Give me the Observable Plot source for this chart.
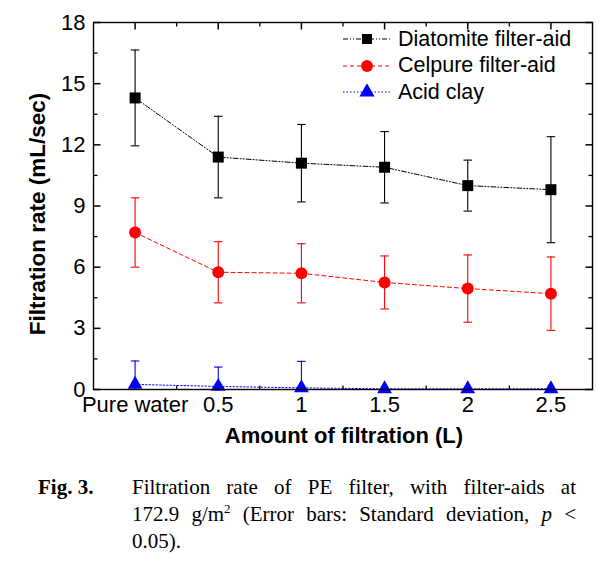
<!DOCTYPE html>
<html>
<head>
<meta charset="utf-8">
<script src="https://cdn.jsdelivr.net/npm/d3@7"></script>
<script src="https://cdn.jsdelivr.net/npm/@observablehq/plot@0.6"></script>
<style>
  body { margin: 0; background: #fff; }
  #wrap { position: relative; width: 614px; height: 570px; background: #fff; font-family: "Liberation Sans", Arial, sans-serif; }
  .ylab { position: absolute; left: 38px; top: 214px; transform: translate(-50%, -50%) rotate(-90deg); font-weight: bold; font-size: 22.5px; white-space: nowrap; color: #000; }
  .xlab { position: absolute; left: 344px; top: 436px; transform: translate(-50%, -50%); font-weight: bold; font-size: 22px; white-space: nowrap; color: #000; }
  .legend { position: absolute; left: 341px; top: 26px; font-size: 21.5px; color: #000; }
  .legend .row { display: flex; align-items: center; height: 26.5px; }
  .legend svg { margin-right: 5px; }
  .caption { position: absolute; left: 38px; top: 474px; font-family: "Liberation Serif", "Times New Roman", serif; font-size: 21px; line-height: 27px; color: #000; }
  .caption .fig { position: absolute; left: 0; top: 0; font-weight: bold; white-space: nowrap; }
  .caption .body { position: absolute; left: 94px; top: 0; width: 444px; }
  .caption .j { text-align: justify; text-align-last: justify; }
</style>
</head>
<body>
<div id="wrap">
  <div id="chart"></div>
  <div class="ylab">Filtration rate (mL/sec)</div>
  <div class="xlab">Amount of filtration (L)</div>
  <div class="legend" id="legend"></div>
  <div class="caption">
    <div class="fig">Fig. 3.</div>
    <div class="body">
      <div class="j">Filtration rate of PE filter, with filter-aids at</div>
      <div class="j">172.9 g/m<sup style="font-size:13px;line-height:0">2</sup> (Error bars: Standard deviation, <i>p</i> &lt;</div>
      <div>0.05).</div>
    </div>
  </div>
</div>
<script>
const categories = ["Pure water", "0.5", "1", "1.5", "2", "2.5"];
const diatomite   = [14.3, 11.4, 11.1, 10.9, 10.0, 9.8];
const diatomiteSD = [2.35, 2.0, 1.9, 1.75, 1.25, 2.6];
const celpure     = [7.7, 5.75, 5.7, 5.25, 4.95, 4.7];
const celpureSD   = [1.7, 1.5, 1.45, 1.3, 1.65, 1.8];
const acidClay    = [0.25, 0.15, 0.08, 0.03, 0.03, 0.03];
const acidClaySD  = [1.15, 0.95, 1.3, 0, 0, 0];
const seriesNames = ["Diatomite filter-aid", "Celpure filter-aid", "Acid clay"];
const yTicks = [0, 3, 6, 9, 12, 15, 18];

const styles = {
  "Diatomite filter-aid": {color: "#000000", dash: "5,2,1,2,1,2", symbol: "square"},
  "Celpure filter-aid":   {color: "#ff0000", dash: "4,3", symbol: "circle"},
  "Acid clay":            {color: "#0000ff", dash: "1.5,2", symbol: "triangle"}
};

const valuesBySeries = [diatomite, celpure, acidClay];
const sdBySeries = [diatomiteSD, celpureSD, acidClaySD];
const rows = [];
seriesNames.forEach((s, k) => {
  categories.forEach((c, i) => {
    rows.push({series: s, i, cat: c, v: valuesBySeries[k][i], sd: sdBySeries[k][i]});
  });
});

const capSymbol = {
  draw(context, size) {
    const w = Math.sqrt(size);
    context.moveTo(-w, 0);
    context.lineTo(w, 0);
  }
};
// tick-mark symbols: a segment of length r from the anchor point in one direction
const seg = (dx, dy) => ({
  draw(context, size) {
    const L = Math.sqrt(size / Math.PI);
    context.moveTo(0, 0);
    context.lineTo(dx * L, dy * L);
  }
});
const tickRight = seg(1, 0), tickLeft = seg(-1, 0), tickUp = seg(0, -1), tickDown = seg(0, 1);

const xIdx = categories.map((c, i) => i);
const xMinor = categories.slice(1).map((c, i) => i + 0.5);
const yMinor = yTicks.slice(1).map(t => t - 1.5);

const MAJ = 7, MIN = 4;
const marks = [];
marks.push(Plot.axisX(xIdx, {anchor: "bottom", tickSize: 0, tickPadding: 7, tickFormat: d => categories[d], fontSize: 22, label: null}));
marks.push(Plot.axisY(yTicks, {anchor: "left", tickSize: 0, tickPadding: 8, fontSize: 22, label: null}));
// inward ticks on all four sides
marks.push(Plot.dot(xIdx,   {x: d => d, frameAnchor: "bottom", symbol: tickUp, r: MAJ, stroke: "#000", strokeWidth: 1.5}));
marks.push(Plot.dot(xMinor, {x: d => d, frameAnchor: "bottom", symbol: tickUp, r: MIN, stroke: "#000", strokeWidth: 1.3}));
marks.push(Plot.dot(xIdx,   {x: d => d, frameAnchor: "top", symbol: tickDown, r: MAJ, stroke: "#000", strokeWidth: 1.5}));
marks.push(Plot.dot(xMinor, {x: d => d, frameAnchor: "top", symbol: tickDown, r: MIN, stroke: "#000", strokeWidth: 1.3}));
marks.push(Plot.dot(yTicks, {y: d => d, frameAnchor: "left", symbol: tickRight, r: MAJ, stroke: "#000", strokeWidth: 1.5}));
marks.push(Plot.dot(yMinor, {y: d => d, frameAnchor: "left", symbol: tickRight, r: MIN, stroke: "#000", strokeWidth: 1.3}));
marks.push(Plot.dot(yTicks, {y: d => d, frameAnchor: "right", symbol: tickLeft, r: MAJ, stroke: "#000", strokeWidth: 1.5}));
marks.push(Plot.dot(yMinor, {y: d => d, frameAnchor: "right", symbol: tickLeft, r: MIN, stroke: "#000", strokeWidth: 1.3}));

seriesNames.forEach(s => {
  const st = styles[s];
  const data = rows.filter(r => r.series === s);
  const eb = data.filter(r => r.sd > 0);
  marks.push(Plot.line(data, {x: "i", y: "v", stroke: st.color, strokeWidth: 1, strokeDasharray: st.dash, clip: true}));
  marks.push(Plot.ruleX(eb, {x: "i", y1: d => d.v - d.sd, y2: d => d.v + d.sd, stroke: st.color, strokeWidth: 1.1, clip: true}));
  marks.push(Plot.dot(eb, {x: "i", y: d => d.v + d.sd, symbol: capSymbol, r: 2.4, stroke: st.color, strokeWidth: 1.1}));
  marks.push(Plot.dot(eb.filter(d => d.v - d.sd > 0), {x: "i", y: d => d.v - d.sd, symbol: capSymbol, r: 2.4, stroke: st.color, strokeWidth: 1.1}));
  marks.push(Plot.dot(data, {x: "i", y: "v", symbol: st.symbol, r: st.symbol === "circle" ? 6 : st.symbol === "triangle" ? 5.5 : 6.2, fill: st.color, stroke: "none"}));
});
marks.push(Plot.frame({stroke: "#000", strokeWidth: 1.4}));

const chart = Plot.plot({
  width: 614,
  height: 460,
  marginLeft: 93,
  marginRight: 22,
  marginTop: 22,
  marginBottom: 71,
  style: {fontFamily: "'Liberation Sans', Arial, sans-serif", fontSize: "22px", color: "#000", background: "#fff"},
  x: {type: "linear", domain: [-0.5, categories.length - 0.5], axis: null},
  y: {domain: [0, 18], axis: null},
  marks
});
document.getElementById("chart").appendChild(chart);

const legend = document.getElementById("legend");
seriesNames.forEach(s => {
  const st = styles[s];
  const row = document.createElement("div");
  row.className = "row";
  const sym = d3.symbol().type(st.symbol === "square" ? d3.symbolSquare : st.symbol === "circle" ? d3.symbolCircle : d3.symbolTriangle).size(st.symbol === "circle" ? 110 : 100)();
  row.innerHTML = `<svg width="52" height="16"><line x1="2" x2="50" y1="8" y2="8" stroke="${st.color}" stroke-width="1" stroke-dasharray="${st.dash}"/><path d="${sym}" transform="translate(26,8)" fill="${st.color}"/></svg><span>${s}</span>`;
  legend.appendChild(row);
});
</script>
</body>
</html>
